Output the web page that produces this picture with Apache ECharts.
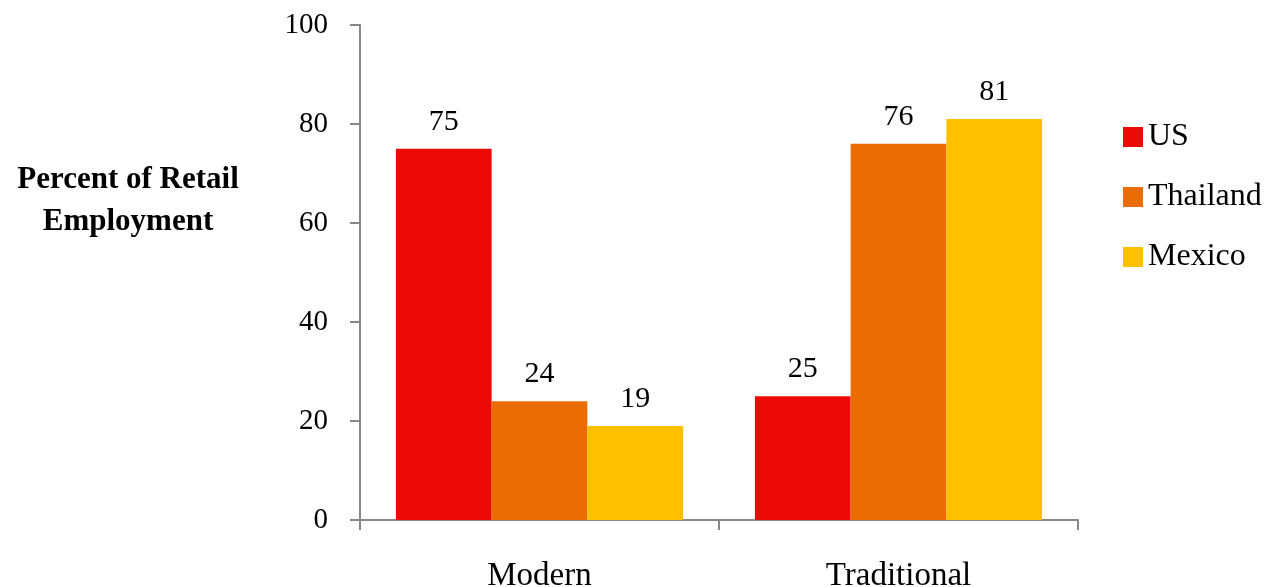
<!DOCTYPE html>
<html>
<head>
<meta charset="utf-8">
<script src="https://cdn.jsdelivr.net/npm/echarts@6/dist/echarts.min.js"></script>
<style>
  html, body { margin: 0; padding: 0; background: #fff; }
  #main { width: 1273px; height: 587px; }
</style>
</head>
<body>
<div id="main"></div>
<script>
// data
var categories = ['Modern', 'Traditional'];
var seriesNames = ['US', 'Thailand', 'Mexico'];
var usValues = [75, 25];
var thailandValues = [24, 76];
var mexicoValues = [19, 81];
var colors = ['#EB0A05', '#EB6C02', '#FFC000'];

var font = 'Liberation Serif';

var myChart = echarts.init(document.getElementById('main'));

function makeSeries(name, values, color) {
  return {
    name: name,
    type: 'bar',
    data: values,
    barGap: '0%',
    barCategoryGap: '20%',
    itemStyle: { color: color },
    label: {
      show: true,
      position: 'top',
      distance: 12,
      color: '#000',
      fontFamily: font,
      fontSize: 30
    }
  };
}

var option = {
  animation: false,
  textStyle: { fontFamily: font },
  grid: { left: 360, right: 195, top: 25, bottom: 67, outerBoundsMode: 'none' },
  legend: {
    orient: 'vertical',
    left: 1118,
    top: 116,
    itemWidth: 20,
    itemHeight: 20,
    itemGap: 28,
    icon: 'rect',
    textStyle: { fontFamily: font, fontSize: 32, color: '#000' },
    data: seriesNames
  },
  graphic: [{
    type: 'text',
    x: 128,
    y: 159,
    style: {
      text: 'Percent of Retail\nEmployment',
      align: 'center',
      font: 'bold 31px "Liberation Serif"',
      lineHeight: 42,
      fill: '#000'
    }
  }],
  xAxis: {
    type: 'category',
    data: categories,
    axisLine: { lineStyle: { color: '#888', width: 2 } },
    axisTick: { show: true, length: 10, lineStyle: { color: '#888', width: 2 } },
    axisLabel: { color: '#000', fontFamily: font, fontSize: 33, margin: 40 }
  },
  yAxis: {
    type: 'value',
    min: 0,
    max: 100,
    interval: 20,
    splitLine: { show: false },
    axisLine: { show: true, lineStyle: { color: '#888', width: 2 } },
    axisTick: { show: true, length: 10, lineStyle: { color: '#888', width: 2 } },
    axisLabel: { color: '#000', fontFamily: font, fontSize: 29, margin: 32 }
  },
  series: [
    makeSeries(seriesNames[0], usValues, colors[0]),
    makeSeries(seriesNames[1], thailandValues, colors[1]),
    makeSeries(seriesNames[2], mexicoValues, colors[2])
  ]
};

myChart.setOption(option);
</script>
</body>
</html>
